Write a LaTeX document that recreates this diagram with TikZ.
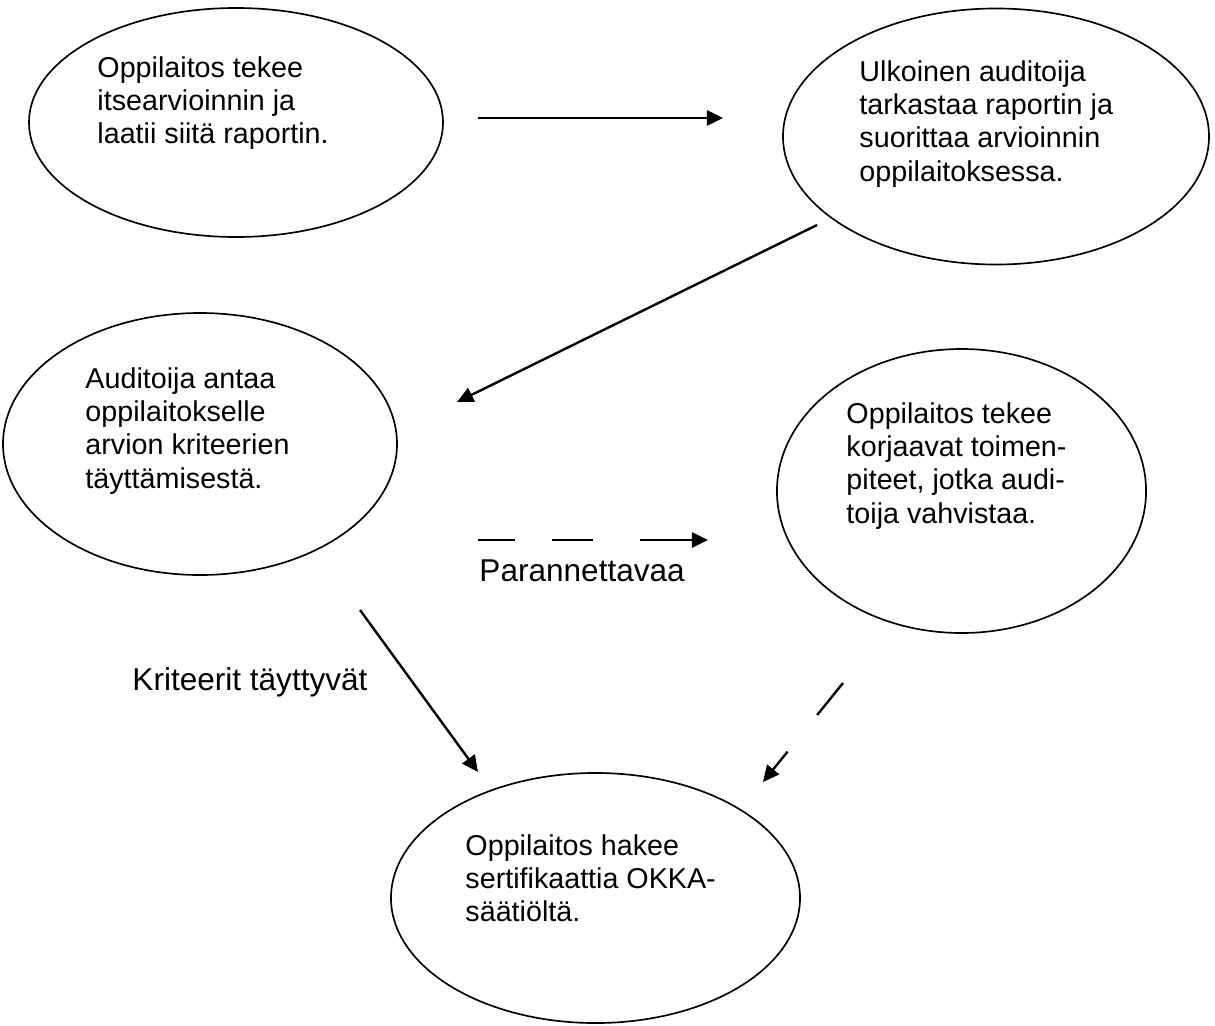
\documentclass[tikz,border=0pt]{standalone}
\usepackage{fontspec}
\setmainfont{Liberation Sans}
\usetikzlibrary{arrows.meta,shapes.geometric}
\begin{document}
\begin{tikzpicture}[x=0.4183pt,y=-0.4183pt,
  bubble/.style={draw,ellipse,line width=0.7pt,inner sep=0pt},
  txt/.style={anchor=base west,align=left,inner sep=0pt,font=\fontsize{12pt}{13.9pt}\selectfont},
  lbl/.style={anchor=base west,inner sep=0pt,font=\fontsize{13.2pt}{15pt}\selectfont},
  conn/.style={line width=1pt,-{Triangle[length=6.8pt,width=6.4pt]}}]
\useasboundingbox (0,0) rectangle (1215,1025);
% ellipses
\node[bubble,minimum width=173.2pt,minimum height=95.8pt] (e1) at (236,122.5) {};
\node[bubble,minimum width=178.2pt,minimum height=107.1pt] (e2) at (996,136.5) {};
\node[bubble,minimum width=164.8pt,minimum height=109.6pt] (e3) at (200,444) {};
\node[bubble,minimum width=154.4pt,minimum height=118.8pt] (e4) at (961.5,491) {};
\node[bubble,minimum width=171.1pt,minimum height=104.6pt] (e5) at (595.5,898) {};
% texts (anchored at the baseline of their last line)
\node[txt] (t1) at (97,143.5) {Oppilaitos tekee\\itsearvioinnin ja\\laatii siitä raportin.};
\node[txt] (t2) at (859,181) {Ulkoinen auditoija\\tarkastaa raportin ja\\suorittaa arvioinnin\\oppilaitoksessa.};
\node[txt] (t3) at (85,488) {Auditoija antaa\\oppilaitokselle\\arvion kriteerien\\täyttämisestä.};
\node[txt] (t4) at (846,523) {Oppilaitos tekee\\korjaavat toimen-\\piteet, jotka audi-\\toija vahvistaa.};
\node[txt] (t5) at (465,921.5) {Oppilaitos hakee\\sertifikaattia OKKA-\\säätiöltä.};
\node[lbl] (l1) at (479,581) {Parannettavaa};
\node[lbl] (l2) at (132,690) {Kriteerit täyttyvät};
% connector ends
\coordinate (a1s) at (478,118);
\coordinate (a1e) at (723,118);
\coordinate (a2s) at (817,225);
\coordinate (a2e) at (457,402);
\coordinate (a3s) at (478,540);
\coordinate (a3e) at (708,540);
\coordinate (a4s) at (360,610);
\coordinate (a4e) at (478,772);
\coordinate (a5s) at (843,683);
\coordinate (a5e) at (763,782);
% connectors
\draw[conn] (a1s) -- (a1e);
\draw[conn] (a2s) -- (a2e);
\draw[conn,dash pattern=on 15.5pt off 15.5pt on 17.1pt off 19.7pt on 100pt] (a3s) -- (a3e);
\draw[conn] (a4s) -- (a4e);
\draw[conn,dash pattern=on 17.2pt off 19.7pt on 100pt] (a5s) -- (a5e);
\end{tikzpicture}
\end{document}
